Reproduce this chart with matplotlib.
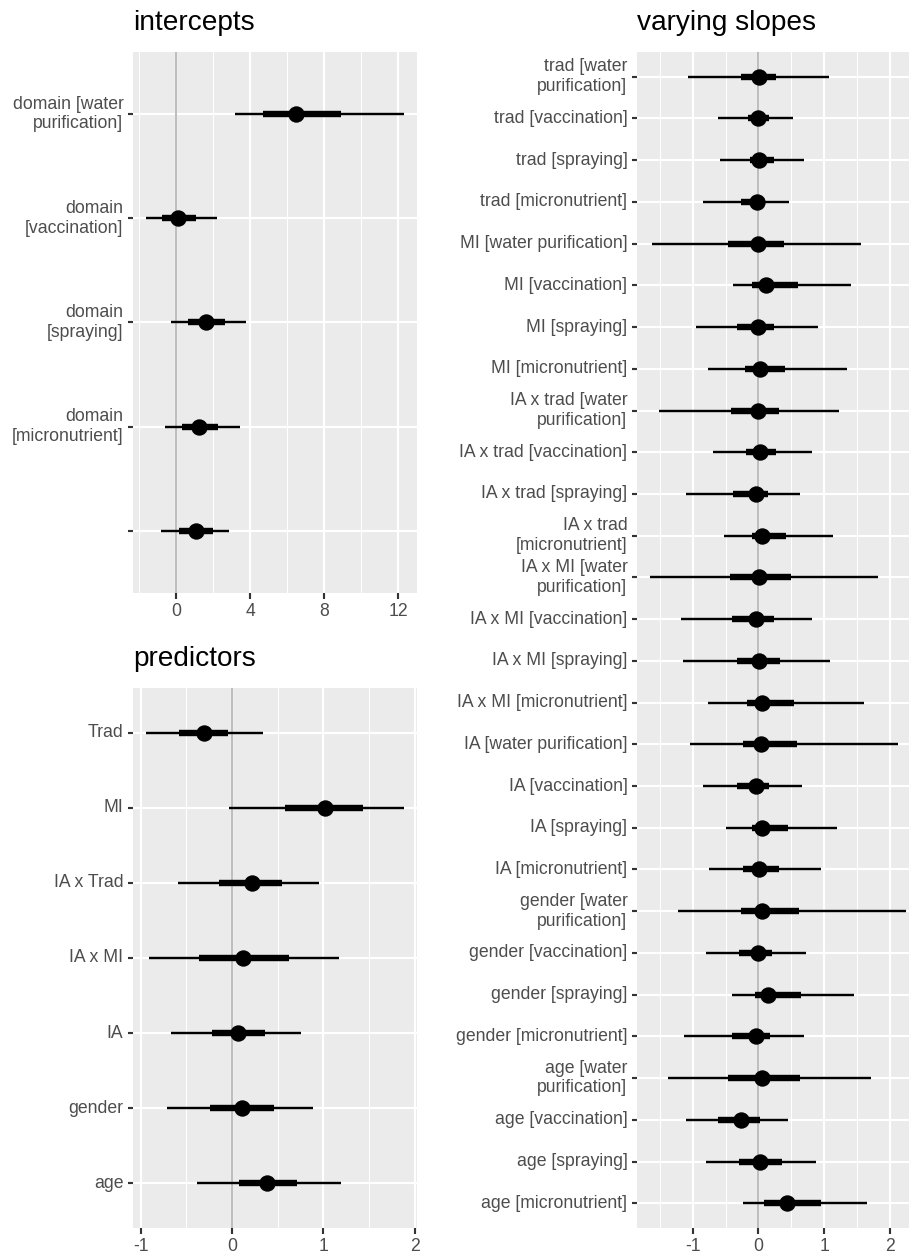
import matplotlib.pyplot as plt
import numpy as np

plt.rcParams['font.family'] = ['Liberation Sans', 'DejaVu Sans']
plt.rcParams['axes.unicode_minus'] = False

# intercepts (point estimate, inner and outer intervals)
intercept_labels = ['domain [water\npurification]', 'domain\n[vaccination]',
                    'domain\n[spraying]', 'domain\n[micronutrient]', '']
intercept_est = [6.49, 0.12, 1.62, 1.22, 1.08]
intercept_inner_lo = [4.68, -0.78, 0.63, 0.30, 0.14]
intercept_inner_hi = [8.88, 1.08, 2.65, 2.27, 1.98]
intercept_outer_lo = [3.19, -1.62, -0.29, -0.63, -0.83]
intercept_outer_hi = [12.29, 2.19, 3.78, 3.42, 2.83]

# fixed effects
predictor_labels = ['Trad', 'MI', 'IA x Trad', 'IA x MI', 'IA', 'gender', 'age']
predictor_est = [-0.31, 1.02, 0.22, 0.12, 0.07, 0.11, 0.38]
predictor_inner_lo = [-0.58, 0.58, -0.14, -0.36, -0.22, -0.24, 0.08]
predictor_inner_hi = [-0.04, 1.43, 0.55, 0.62, 0.36, 0.46, 0.71]
predictor_outer_lo = [-0.94, -0.03, -0.59, -0.91, -0.67, -0.71, -0.38]
predictor_outer_hi = [0.34, 1.88, 0.95, 1.17, 0.76, 0.89, 1.19]

# varying slopes by domain
slope_labels = [
    'trad [water\npurification]', 'trad [vaccination]', 'trad [spraying]',
    'trad [micronutrient]', 'MI [water purification]', 'MI [vaccination]',
    'MI [spraying]', 'MI [micronutrient]', 'IA x trad [water\npurification]',
    'IA x trad [vaccination]', 'IA x trad [spraying]', 'IA x trad\n[micronutrient]',
    'IA x MI [water\npurification]', 'IA x MI [vaccination]', 'IA x MI [spraying]',
    'IA x MI [micronutrient]', 'IA [water purification]', 'IA [vaccination]',
    'IA [spraying]', 'IA [micronutrient]', 'gender [water\npurification]',
    'gender [vaccination]', 'gender [spraying]', 'gender [micronutrient]',
    'age [water\npurification]', 'age [vaccination]', 'age [spraying]',
    'age [micronutrient]']
slope_est = [0.01, 0.00, 0.01, -0.02, -0.01, 0.12, -0.01, 0.02, 0.00,
             0.02, -0.03, 0.05, 0.01, -0.03, 0.01, 0.05, 0.04, -0.03, 0.06,
             0.01, 0.05, -0.01, 0.14, -0.03, 0.05, -0.27, 0.02, 0.44]
slope_inner_lo = [-0.26, -0.16, -0.13, -0.27, -0.47, -0.10, -0.33, -0.21, -0.42,
                  -0.19, -0.38, -0.10, -0.43, -0.40, -0.33, -0.17, -0.23, -0.32, -0.10,
                  -0.23, -0.26, -0.29, -0.06, -0.40, -0.47, -0.62, -0.30, 0.09]
slope_inner_hi = [0.27, 0.16, 0.23, 0.10, 0.39, 0.61, 0.24, 0.41, 0.32,
                  0.27, 0.15, 0.42, 0.49, 0.23, 0.33, 0.54, 0.59, 0.16, 0.45,
                  0.31, 0.62, 0.20, 0.65, 0.18, 0.64, 0.02, 0.36, 0.95]
slope_outer_lo = [-1.08, -0.61, -0.59, -0.84, -1.62, -0.38, -0.95, -0.77, -1.52,
                  -0.69, -1.10, -0.52, -1.65, -1.18, -1.15, -0.77, -1.04, -0.84, -0.50,
                  -0.75, -1.23, -0.80, -0.41, -1.13, -1.37, -1.10, -0.80, -0.24]
slope_outer_hi = [1.08, 0.52, 0.69, 0.47, 1.56, 1.41, 0.91, 1.35, 1.22,
                  0.81, 0.63, 1.13, 1.82, 0.82, 1.09, 1.60, 2.13, 0.67, 1.20,
                  0.95, 2.25, 0.72, 1.45, 0.70, 1.71, 0.45, 0.87, 1.66]

W, H, DPI = 909, 1256, 144


def px_rect(left, top, right, bottom):
    return [left / W, 1 - bottom / H, (right - left) / W, (bottom - top) / H]


def draw_panel(fig, rect, title, labels, est, ilo, ihi, olo, ohi, major, minor):
    ax = fig.add_axes(rect)
    ax.set_facecolor('#EBEBEB')
    for s in ax.spines.values():
        s.set_visible(False)

    n = len(labels)
    y = np.arange(n)

    # ggplot style 5% expansion around the data
    lo, hi = min(olo), max(ohi)
    pad = 0.05 * (hi - lo)
    ax.set_xlim(lo - pad, hi + pad)
    ax.set_ylim(n - 0.4, -0.6)

    ax.set_xticks(major)
    ax.set_xticks(minor, minor=True)
    ax.set_xticklabels([str(v) for v in major])
    ax.set_yticks(y)
    ax.set_yticklabels(labels, va='center', linespacing=1.2)

    ax.grid(which='major', color='white', linewidth=1.07)
    ax.grid(which='minor', axis='x', color='white', linewidth=0.53)
    ax.set_axisbelow(True)

    ax.tick_params(which='major', length=2.75, width=1.07, color='#333333',
                   labelsize=8.8, labelcolor='#4D4D4D', pad=2.2)
    ax.tick_params(which='minor', length=0)

    ax.axvline(0, color='#BEBEBE', linewidth=1.0, zorder=1.5)
    ax.hlines(y, olo, ohi, color='black', linewidth=1.2, capstyle='butt', zorder=2)
    ax.hlines(y, ilo, ihi, color='black', linewidth=3.2, capstyle='butt', zorder=3)
    ax.plot(est, y, 'o', color='black', markersize=8.2, markeredgewidth=0, zorder=4)

    ax.set_title(title, loc='left', fontsize=14, pad=11)
    return ax


fig = plt.figure(figsize=(W / DPI, H / DPI), dpi=DPI)

draw_panel(fig, px_rect(133.3, 51.7, 416.7, 593.3), 'intercepts', intercept_labels,
           intercept_est, intercept_inner_lo, intercept_inner_hi,
           intercept_outer_lo, intercept_outer_hi, [0, 4, 8, 12], [-2, 2, 6, 10])

draw_panel(fig, px_rect(133.3, 687.7, 416.7, 1228.3), 'predictors', predictor_labels,
           predictor_est, predictor_inner_lo, predictor_inner_hi,
           predictor_outer_lo, predictor_outer_hi, [-1, 0, 1, 2], [-0.5, 0.5, 1.5])

draw_panel(fig, px_rect(637.3, 51.7, 922.6, 1228.3), 'varying slopes', slope_labels,
           slope_est, slope_inner_lo, slope_inner_hi,
           slope_outer_lo, slope_outer_hi, [-1, 0, 1, 2], [-1.5, -0.5, 0.5, 1.5, 2.5])

fig.savefig('out.png', dpi=DPI)
